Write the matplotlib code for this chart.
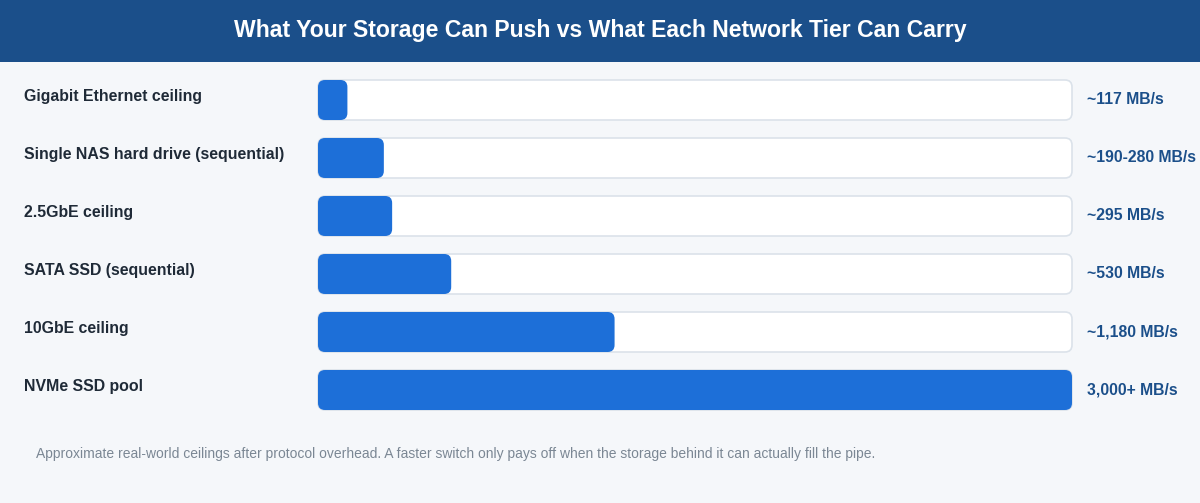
import matplotlib
matplotlib.use('Agg')
from matplotlib import pyplot as plt
from matplotlib.patches import FancyBboxPatch, Rectangle

plt.rcParams['font.family'] = ['Liberation Sans', 'DejaVu Sans']

# Data
tiers = ['Gigabit Ethernet ceiling', 'Single NAS hard drive (sequential)', '2.5GbE ceiling',
         'SATA SSD (sequential)', '10GbE ceiling', 'NVMe SSD pool']
speeds = [117, 262, 295, 530, 1180, 3000]
speed_labels = ['~117 MB/s', '~190-280 MB/s', '~295 MB/s', '~530 MB/s', '~1,180 MB/s', '3,000+ MB/s']
max_speed = 3000

W, H = 1200, 503
fig = plt.figure(figsize=(W / 100, H / 100), dpi=100)
fig.patch.set_facecolor('#f5f7fa')

# header band
fig.patches.append(Rectangle((0, 1 - 62 / H), 1, 62 / H, transform=fig.transFigure,
                             facecolor='#1b4f8a', edgecolor='none', zorder=0))
fig.text(0.5, 1 - 31 / H, 'What Your Storage Can Push vs What Each Network Tier Can Carry',
         ha='center', va='center', color='white', fontsize=16.6, fontweight='bold')

# bar area: 318..1072 px wide, rows of 58 px starting at 71 px
left, right = 318, 1072
top, row_h = 71, 58
n = len(tiers)
ax = fig.add_axes([left / W, 1 - (top + n * row_h) / H, (right - left) / W, n * row_h / H])
ax.set_xlim(0, max_speed)
ax.set_ylim(n - 0.5, -0.5)
ax.axis('off')

bar_h = 40 / row_h
rx = 7 / (right - left) * max_speed
ry = 7 / row_h
aspect = ry / rx

for i, (name, v, lab) in enumerate(zip(tiers, speeds, speed_labels)):
    track = FancyBboxPatch((0, i - bar_h / 2), max_speed, bar_h,
                           boxstyle='round,pad=0,rounding_size=%f' % rx, mutation_aspect=aspect,
                           facecolor='white', edgecolor='#dbe2ea', linewidth=1.2, clip_on=False)
    ax.add_patch(track)
    fill = FancyBboxPatch((0, i - bar_h / 2), v, bar_h,
                          boxstyle='round,pad=0,rounding_size=%f' % rx, mutation_aspect=aspect,
                          facecolor='#1d6fd8', edgecolor='none', clip_on=False)
    ax.add_patch(fill)
    y = 1 - (top + (i + 0.5) * row_h - 4) / H
    fig.text(24 / W, y, name, ha='left', va='center', fontsize=11.4, fontweight='bold', color='#1f2a37')
    ax.text(max_speed * (1 + 15 / (right - left)), i, lab, ha='left', va='center',
            fontsize=11.3, fontweight='bold', color='#1b4f8a')

fig.text(36 / W, 1 - 454 / H,
         'Approximate real-world ceilings after protocol overhead. A faster switch only pays off '
         'when the storage behind it can actually fill the pipe.',
         ha='left', va='center', fontsize=10, color='#7b8794')

fig.savefig('out.png', dpi=100, facecolor=fig.get_facecolor())
